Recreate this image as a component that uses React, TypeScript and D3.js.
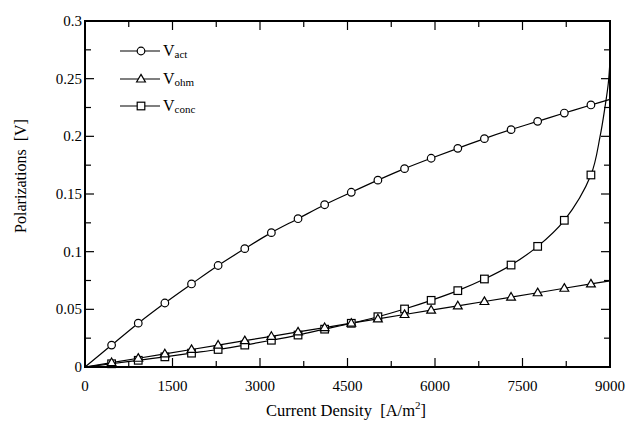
import React from "react";
import * as d3 from "d3";

// Current density (A/m^2) at marker positions
const currentDensity = [0, 456, 913, 1369, 1826, 2282, 2739, 3195, 3652, 4108, 4565, 5021, 5478, 5934, 6391, 6847, 7304, 7760, 8217, 8673, 9000];
const vAct = [0, 0.019, 0.038, 0.0555, 0.072, 0.088, 0.1026, 0.1165, 0.1286, 0.1407, 0.1515, 0.162, 0.172, 0.181, 0.1896, 0.198, 0.2058, 0.213, 0.2202, 0.2272, 0.2321];
const vOhm = [0, 0.0038, 0.0076, 0.0114, 0.0152, 0.019, 0.0228, 0.0266, 0.0304, 0.0342, 0.038, 0.0417, 0.0455, 0.0493, 0.053, 0.0568, 0.0606, 0.0644, 0.0683, 0.072, 0.0747];
// Concentration polarization (markers), last value omitted (tail below)
const vConc = [0, 0.0028, 0.0058, 0.0088, 0.012, 0.0152, 0.019, 0.0232, 0.0277, 0.0328, 0.0379, 0.0436, 0.0503, 0.0578, 0.0662, 0.0763, 0.0884, 0.1046, 0.1272, 0.1665];
// Steep tail of the concentration curve near the limiting current
const concTailJ = [8829, 8915, 8971, 9000];
const concTailV = [0.1997, 0.2257, 0.246, 0.266];

const xTicks = [0, 1500, 3000, 4500, 6000, 7500, 9000];
const yTicks = [0, 0.05, 0.1, 0.15, 0.2, 0.25, 0.3];
const yTickLabels = ["0", "0.05", "0.1", "0.15", "0.2", "0.25", "0.3"];
const xMinor = [750, 2250, 3750, 5250, 6750, 8250];
const yMinor = [0.025, 0.075, 0.125, 0.175, 0.225, 0.275];

const W = 637, H = 422;
const L = 85, R = 610, T = 21, B = 367;

export default function App() {
  const x = d3.scaleLinear().domain([0, 9000]).range([L, R]);
  const y = d3.scaleLinear().domain([0, 0.3]).range([B, T]);

  const line = d3.line<[number, number]>().x(d => x(d[0])).y(d => y(d[1]));
  const smooth = d3.line<[number, number]>().x(d => x(d[0])).y(d => y(d[1])).curve(d3.curveCatmullRom.alpha(0.5));

  const actPts: [number, number][] = currentDensity.map((j, i) => [j, vAct[i]]);
  const ohmPts: [number, number][] = currentDensity.map((j, i) => [j, vOhm[i]]);
  const concPts: [number, number][] = vConc.map((v, i) => [currentDensity[i], v] as [number, number])
    .concat(concTailJ.map((j, i) => [j, concTailV[i]] as [number, number]));

  const markerIdx = d3.range(1, 20);
  const font = "'Liberation Serif', 'DejaVu Serif', serif";
  const ts = { fontFamily: font } as React.CSSProperties;
  const sw = 1.2;

  const circle = (cx: number, cy: number, k: string) => (
    <circle key={k} cx={cx} cy={cy} r={3.8} fill="white" stroke="black" strokeWidth={sw} />
  );
  const tri = (cx: number, cy: number, k: string) => (
    <path key={k} d={`M${cx},${cy - 4.6}L${cx + 4.4},${cy + 3}L${cx - 4.4},${cy + 3}Z`} fill="white" stroke="black" strokeWidth={sw} />
  );
  const square = (cx: number, cy: number, k: string) => (
    <rect key={k} x={cx - 3.8} y={cy - 3.8} width={7.6} height={7.6} fill="white" stroke="black" strokeWidth={sw} />
  );

  const legend = [
    { label: "act", y: 51, m: circle },
    { label: "ohm", y: 79, m: tri },
    { label: "conc", y: 106, m: square },
  ];

  return (
    <svg width={W} height={H} style={{ position: "absolute", left: 0, top: 0, background: "white", fontFamily: font }}>
      {/* ticks */}
      {xTicks.map((t, i) => (
        <g key={"xt" + i}>
          <line x1={x(t)} x2={x(t)} y1={B} y2={B - 9} stroke="black" strokeWidth={1.2} />
          <line x1={x(t)} x2={x(t)} y1={T} y2={T + 9} stroke="black" strokeWidth={1.2} />
          <text x={x(t)} y={391} textAnchor="middle" fontSize={15} style={ts}>{t}</text>
        </g>
      ))}
      {xMinor.map((t, i) => (
        <g key={"xm" + i}>
          <line x1={x(t)} x2={x(t)} y1={B} y2={B - 6} stroke="black" strokeWidth={1.2} />
          <line x1={x(t)} x2={x(t)} y1={T} y2={T + 6} stroke="black" strokeWidth={1.2} />
        </g>
      ))}
      {yTicks.map((t, i) => (
        <g key={"yt" + i}>
          <line x1={L} x2={L + 9} y1={y(t)} y2={y(t)} stroke="black" strokeWidth={1.2} />
          <line x1={R} x2={R - 9} y1={y(t)} y2={y(t)} stroke="black" strokeWidth={1.2} />
          <text x={82} y={y(t) + 5} textAnchor="end" fontSize={15} style={ts}>{yTickLabels[i]}</text>
        </g>
      ))}
      {yMinor.map((t, i) => (
        <g key={"ym" + i}>
          <line x1={L} x2={L + 6} y1={y(t)} y2={y(t)} stroke="black" strokeWidth={1.2} />
          <line x1={R} x2={R - 6} y1={y(t)} y2={y(t)} stroke="black" strokeWidth={1.2} />
        </g>
      ))}

      {/* curves */}
      <path d={smooth(actPts) || ""} fill="none" stroke="black" strokeWidth={sw} />
      <path d={line(ohmPts) || ""} fill="none" stroke="black" strokeWidth={sw} />
      <path d={smooth(concPts) || ""} fill="none" stroke="black" strokeWidth={sw} />

      {/* markers */}
      {markerIdx.map(i => circle(x(currentDensity[i]), y(vAct[i]), "c" + i))}
      {markerIdx.map(i => square(x(currentDensity[i]), y(vConc[i]), "s" + i))}
      {markerIdx.map(i => tri(x(currentDensity[i]), y(vOhm[i]), "t" + i))}

      {/* frame */}
      <rect x={L} y={T} width={R - L} height={B - T} fill="none" stroke="black" strokeWidth={2} />

      {/* legend */}
      {legend.map((lg, i) => (
        <g key={"lg" + i}>
          <line x1={120} x2={160} y1={lg.y} y2={lg.y} stroke="black" strokeWidth={sw} />
          {lg.m(141, lg.y, "lm" + i)}
          <text x={163} y={lg.y + 5} fontSize={16} style={ts}>
            V<tspan fontSize={11} dy={2}>{lg.label}</tspan>
          </text>
        </g>
      ))}

      {/* axis titles */}
      <text x={346} y={416} textAnchor="middle" fontSize={16.5} style={ts}>
        {"Current Density\u00a0\u00a0[A/m"}<tspan fontSize={11} dy={-7}>2</tspan><tspan dy={7}>]</tspan>
      </text>
      <text transform="translate(26,176) rotate(-90)" textAnchor="middle" fontSize={16} style={ts}>
        {"Polarizations\u00a0\u00a0[V]"}
      </text>
    </svg>
  );
}
